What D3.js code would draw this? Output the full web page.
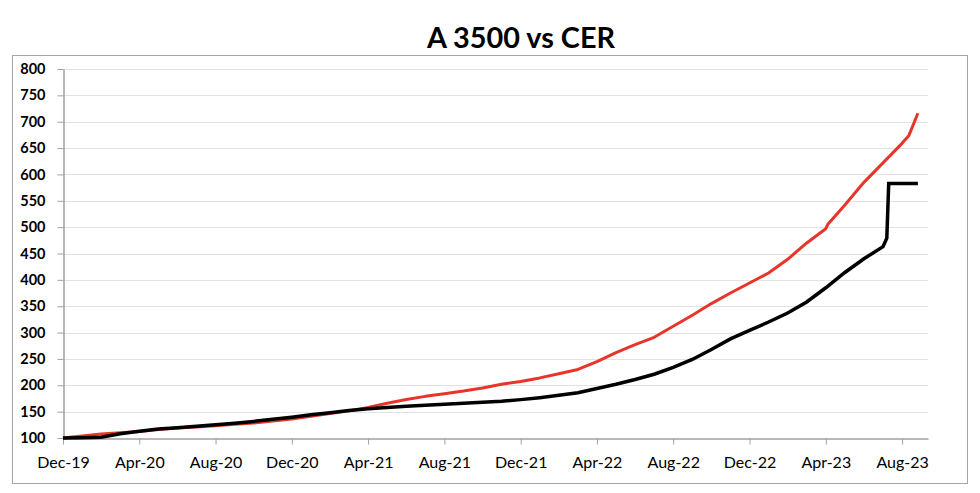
<!DOCTYPE html>
<html>
<head>
<meta charset="utf-8">
<script src="https://cdn.jsdelivr.net/npm/d3@7"></script>
<style>
  html, body { margin: 0; padding: 0; background: #fff; }
  svg { display: block; }
</style>
</head>
<body>
<svg id="chart" width="980" height="493"></svg>
<script>
// ---- data ----
const titleText = "A 3500 vs CER";
const xTickLabels = ["Dec-19","Apr-20","Aug-20","Dec-20","Apr-21","Aug-21","Dec-21","Apr-22","Aug-22","Dec-22","Apr-23","Aug-23"];
const xTickMonths = [0,4,8,12,16,20,24,28,32,36,40,44]; // months since Dec-19
const yTicks = [100,150,200,250,300,350,400,450,500,550,600,650,700,750,800];

// CER index (red), months since Dec-19
const cerMonths = [0,1,2,3,4,5,6,7,8,9,10,11,12,13,14,15,16,17,18,19,20,21,22,23,24,25,26,27,28,29,30,31,32,33,34,35,36,37,38,39,40,40.1,41,42,43,44,44.36,44.83];
const cerValues = [100,104,107.5,110,112.5,116,119,121,123,126,128.5,132,136,141,146.5,151.5,158,166,173,179,184,189,195,202,207,214,222,230,245,262,277,291,312,333,355,375,394,413,439,470,497,505,542,585,622,659,674,716];

// A 3500 index (black)
const a3500Months = [0,1,2,3,4,5,6,7,8,9,10,11,12,13,14,15,16,17,18,19,20,21,22,23,24,25,26,27,28,29,30,31,32,33,34,35,36,37,38,39,40,41,42,43,43.2,43.3,44.83];
const a3500Values = [100,100.5,101.5,108,113,117,119.5,122.5,125,128,131.5,135.5,139.5,144,148,152,155.5,158,160,162,164,166,168,169.5,172.8,176.5,181,186,194,202,211,221,234,249,268,288,304,320,337,358,385,414,440,463,479,583,583];

// ---- chart ----
const svg = d3.select("#chart");
const font = "Lato, 'Open Sans', sans-serif";

// outer border
svg.append("rect")
  .attr("x", 12.5).attr("y", 55.5)
  .attr("width", 955).attr("height", 428)
  .attr("fill", "none").attr("stroke", "#a6a6a6").attr("stroke-width", 1);

// title
svg.append("text")
  .attr("x", 521).attr("y", 48)
  .attr("text-anchor", "middle")
  .attr("font-family", font)
  .attr("font-weight", "bold")
  .attr("font-size", 29)
  .attr("textLength", 188)
  .attr("lengthAdjust", "spacingAndGlyphs")
  .attr("fill", "#000")
  .text(titleText);

const x = d3.scaleLinear().domain([0, 45.36]).range([63, 928]);
const y = d3.scaleLinear().domain([100, 800]).range([438, 69]);

// gridlines
svg.append("g")
  .selectAll("line")
  .data(yTicks.filter(d => d > 100))
  .join("line")
  .attr("x1", x(0)).attr("x2", x(45.36))
  .attr("y1", d => Math.round(y(d)) + 0.5).attr("y2", d => Math.round(y(d)) + 0.5)
  .attr("stroke", "#e3e3e3").attr("stroke-width", 1);

// y axis
const yAxis = svg.append("g")
  .attr("transform", `translate(${x(0) + 0.5},0)`)
  .call(d3.axisLeft(y).tickValues(yTicks).tickSize(6).tickSizeOuter(0).tickPadding(12).tickFormat(d3.format("d")));
yAxis.select(".domain").attr("stroke", "#a0a0a0").attr("stroke-width", 1.5);
yAxis.selectAll(".tick line").attr("stroke", "#a0a0a0");
yAxis.selectAll("text")
  .attr("font-family", font).attr("font-weight", "bold").attr("font-size", 14.5).attr("fill", "#000");

// x axis
const xAxis = svg.append("g")
  .attr("transform", `translate(0,${y(100) + 0.5})`)
  .call(d3.axisBottom(x).tickValues(xTickMonths).tickSize(6).tickSizeOuter(0).tickPadding(12)
    .tickFormat((d, i) => xTickLabels[i]));
xAxis.select(".domain").attr("stroke", "#a0a0a0").attr("stroke-width", 1.5);
xAxis.selectAll(".tick line").attr("stroke", "#a0a0a0");
xAxis.selectAll("text")
  .attr("font-family", font).attr("font-weight", "normal").attr("font-size", 16).attr("fill", "#000");

// lines
const line = d3.line().x(d => x(d[0])).y(d => y(d[1]));

svg.append("path")
  .datum(cerMonths.map((m, i) => [m, cerValues[i]]))
  .attr("d", line)
  .attr("fill", "none").attr("stroke", "#e8352b").attr("stroke-width", 3)
  .attr("stroke-linejoin", "round");

svg.append("path")
  .datum(a3500Months.map((m, i) => [m, a3500Values[i]]))
  .attr("d", line)
  .attr("fill", "none").attr("stroke", "#000").attr("stroke-width", 3.5)
  .attr("stroke-linejoin", "miter");
</script>
</body>
</html>
